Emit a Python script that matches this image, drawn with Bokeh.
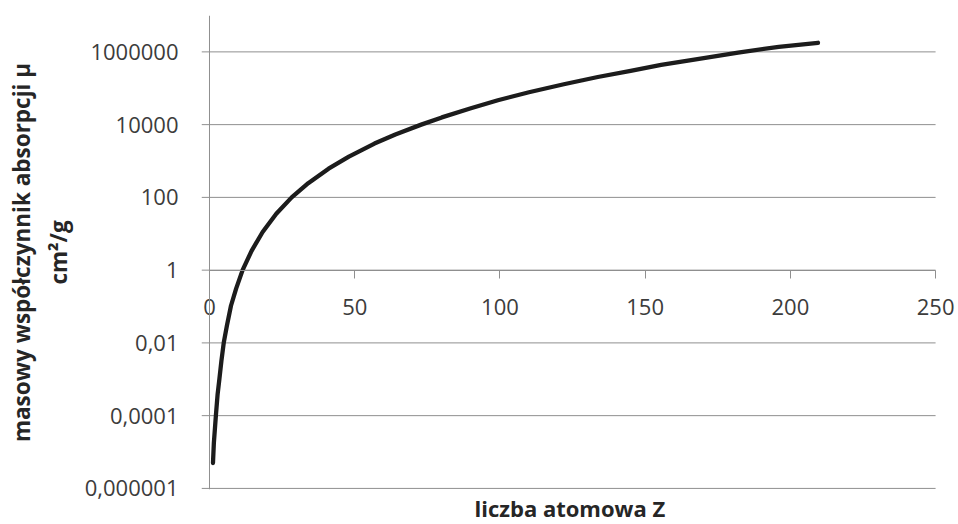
from bokeh.plotting import figure
from bokeh.models import (FixedTicker, CustomJSTickFormatter, Range1d, Title,
                          LinearAxis, Span)
from bokeh.embed import file_html
from bokeh.resources import INLINE

# Data (Z, mass absorption coefficient cm^2/g)
z_values = [1.2, 1.5, 2.2, 2.8, 3.4, 4.1, 4.9, 6.0, 7.4, 9.2, 11.4, 14.5,
            18.3, 23, 28.3, 34, 41, 48, 56.8, 64, 72.9, 80, 90, 99.3, 110,
            122, 133.7, 145, 155.5, 168, 182, 196, 209.5]
mu_values = [5.0e-6, 1.74e-5, 1.0e-4, 3.9e-4, 1.0e-3, 3.16e-3, 1.0e-2,
             3.0e-2, 0.105, 0.316, 1.0, 3.4, 11.2, 35.5, 100, 245, 617,
             1320, 3020, 5370, 1.0e4, 1.58e4, 2.82e4, 4.68e4, 7.76e4,
             1.29e5, 2.04e5, 3.02e5, 4.37e5, 6.31e5, 9.55e5, 1.38e6, 1.78e6]

y_ticks = [1e-6, 1e-4, 1e-2, 1, 100, 1e4, 1e6]
y_tick_labels = ["0,000001", "0,0001", "0,01", "1", "100", "10000", "1000000"]
x_ticks = [0, 50, 100, 150, 200, 250]

x_title = "liczba atomowa Z"
y_title = "masowy współczynnik absorpcji μ\ncm²/g"

GRID = "#8f8f8f"
TEXT = "#3c3c3c"
TITLE = "#262626"
FONT = "Open Sans"

X_START, X_END = 0, 250
# frame reaches a little past the axes so tick marks / edge labels are not clipped
p = figure(width=958, height=524, y_axis_type="log",
           x_range=Range1d(-2.75, 257.2), y_range=Range1d(10 ** -6.03, 1e7),
           output_backend="svg", toolbar_location=None,
           x_axis_location=None,
           min_border_left=201, min_border_right=2,
           min_border_top=15, min_border_bottom=32)
p.outline_line_color = None
p.background_fill_color = "white"
p.border_fill_color = "white"
p.xgrid.visible = False
p.ygrid.visible = False

# horizontal gridlines (incl. the outward tick stubs on the left)
p.segment(x0=[-2.75] * len(y_ticks), y0=y_ticks,
          x1=[X_END] * len(y_ticks), y1=y_ticks,
          line_color=GRID, line_width=1)

# vertical axis line at x = 0
p.add_layout(Span(location=X_START, dimension="height", line_color=GRID, line_width=1))

p.line(z_values, mu_values, line_color="#1c1c1c", line_width=4.3,
       line_cap="round", line_join="round")

# y axis labels (at frame edge; line/ticks invisible)
ya = p.yaxis[0]
ya.ticker = FixedTicker(ticks=y_ticks, minor_ticks=[])
ya.formatter = CustomJSTickFormatter(args=dict(yt=y_ticks, yl=y_tick_labels), code="""
    for (let i = 0; i < yt.length; i++) {
        if (Math.abs(Math.log10(tick) - Math.log10(yt[i])) < 1e-6) return yl[i];
    }
    return "";
""")
ya.axis_line_color = None
ya.major_tick_line_color = None
ya.major_tick_out = 0
ya.major_tick_in = 0
ya.minor_tick_line_color = None
ya.major_label_text_font = FONT
ya.major_label_text_font_size = "22px"
ya.major_label_text_color = TEXT
ya.major_label_standoff = 23
ya.axis_label = y_title
ya.axis_label_text_font = FONT
ya.axis_label_text_font_style = "bold"
ya.axis_label_text_font_size = "22.5px"
ya.axis_label_text_color = TITLE
ya.axis_label_standoff = 8

# x axis crossing at y = 1
xa = LinearAxis(fixed_location=1, bounds=(X_START, X_END))
xa.ticker = FixedTicker(ticks=x_ticks, minor_ticks=[])
xa.axis_line_color = GRID
xa.major_tick_line_color = GRID
xa.major_tick_out = 8
xa.major_tick_in = 0
xa.minor_tick_line_color = None
xa.major_label_text_font = FONT
xa.major_label_text_font_size = "22px"
xa.major_label_text_color = TEXT
xa.major_label_standoff = 21
p.add_layout(xa, "below")

p.add_layout(Title(text=x_title, align="left", offset=273, text_font=FONT,
                   text_font_style="bold", text_font_size="22px",
                   text_color=TITLE, standoff=3), "below")

open("out.html", "w").write(file_html(p, INLINE))
